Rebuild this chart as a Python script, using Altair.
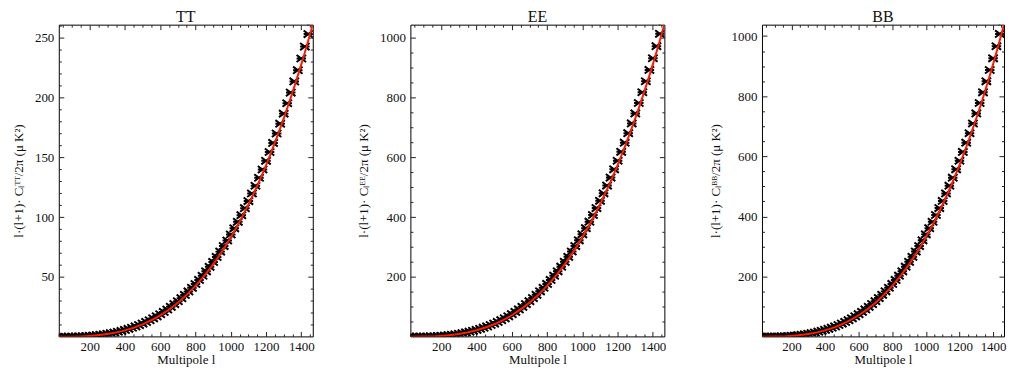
import altair as alt
import pandas as pd

# ---- data ----
ell_pts = [20, 40, 60, 80, 100, 120, 140, 160, 180, 200,
           220, 240, 260, 280, 300, 320, 340, 360, 380, 400,
           420, 440, 460, 480, 500, 520, 540, 560, 580, 600,
           620, 640, 660, 680, 700, 720, 740, 760, 780, 800,
           820, 840, 860, 880, 900, 920, 940, 960, 980, 1000,
           1020, 1040, 1060, 1080, 1100, 1120, 1140, 1160, 1180, 1200,
           1220, 1240, 1260, 1280, 1300, 1320, 1340, 1360, 1380, 1400,
           1420, 1440, 1460]

tt_pts = [0.00, 0.01, 0.03, 0.06, 0.11, 0.18, 0.28, 0.41, 0.57, 0.77,
          1.01, 1.30, 1.63, 2.03, 2.47, 2.98, 3.56, 4.21, 4.92, 5.72,
          6.60, 7.56, 8.62, 9.77, 11.0, 12.4, 13.8, 15.4, 17.1, 18.8,
          20.8, 22.8, 25.0, 27.3, 29.7, 32.3, 35.0, 37.9, 40.9, 44.1,
          47.5, 51.0, 54.7, 58.5, 62.6, 66.8, 71.2, 75.8, 80.5, 85.5,
          90.7, 96.1, 101.7, 107.5, 113.5, 119.8, 126.3, 133.0, 139.9, 147.1,
          154.5, 162.1, 170.0, 178.2, 186.6, 195.3, 204.2, 213.5, 222.9, 232.7,
          242.7, 253.1, 263.7]

ee_pts = [0.01, 0.04, 0.11, 0.24, 0.44, 0.73, 1.12, 1.63, 2.28, 3.08,
          4.04, 5.19, 6.54, 8.10, 9.89, 11.9, 14.2, 16.8, 19.7, 22.9,
          26.4, 30.3, 34.5, 39.1, 44.0, 49.4, 55.2, 61.5, 68.2, 75.4,
          83.0, 91.2, 99.9, 109.1, 118.8, 129.2, 140.1, 151.6, 163.7, 176.5,
          189.8, 203.9, 218.6, 234.1, 250.2, 267.1, 284.7, 303.0, 322.2, 342.1,
          362.8, 384.4, 406.8, 430.0, 454.1, 479.1, 505.0, 531.8, 559.5, 588.2,
          617.9, 648.5, 680.2, 712.8, 746.4, 781.2, 817.0, 853.8, 891.7, 930.8,
          971.0, 1012.3, 1054.7]

bb_pts = [0.01, 0.04, 0.11, 0.24, 0.44, 0.72, 1.11, 1.62, 2.27, 3.06,
          4.02, 5.16, 6.51, 8.06, 9.84, 11.8, 14.1, 16.7, 19.6, 22.8,
          26.3, 30.1, 34.3, 38.9, 43.8, 49.2, 54.9, 61.2, 67.9, 75.0,
          82.6, 90.7, 99.4, 108.6, 118.2, 128.6, 139.4, 150.8, 162.9, 175.6,
          188.9, 202.9, 217.5, 232.9, 249.0, 265.8, 283.3, 301.5, 320.6, 340.4,
          361.0, 382.5, 404.8, 427.9, 451.8, 476.7, 502.5, 529.1, 556.7, 585.3,
          614.8, 645.3, 676.8, 709.2, 742.7, 777.3, 812.9, 849.5, 887.2, 926.1,
          966.1, 1007.2, 1049.4]

ell_line = [20, 100, 200, 300, 400, 500, 600, 700, 800, 900, 1000,
            1100, 1200, 1300, 1400, 1465]
tt_line = [0.0, 0.08, 0.66, 2.24, 5.31, 10.4, 17.9, 28.5, 42.5, 60.5, 83.0,
           110.5, 143.4, 182.4, 227.8, 261.0]
ee_line = [0.0, 0.33, 2.66, 8.96, 21.3, 41.5, 71.7, 113.9, 170.0, 242.0, 332.0,
           442.0, 573.8, 729.5, 911.1, 1043.0]
bb_line = [0.0, 0.33, 2.64, 8.92, 21.1, 41.3, 71.4, 113.3, 169.2, 240.8, 330.4,
           439.8, 570.9, 725.8, 906.6, 1038.0]

x_major = [200, 400, 600, 800, 1000, 1200, 1400]
x_all = [50, 100, 150, 200, 250, 300, 350, 400, 450, 500, 550, 600, 650, 700,
         750, 800, 850, 900, 950, 1000, 1050, 1100, 1150, 1200, 1250, 1300,
         1350, 1400, 1450]
tt_major = [50, 100, 150, 200, 250]
tt_all = [10, 20, 30, 40, 50, 60, 70, 80, 90, 100, 110, 120, 130, 140, 150,
          160, 170, 180, 190, 200, 210, 220, 230, 240, 250, 260]
pol_major = [200, 400, 600, 800, 1000]
pol_all = [50, 100, 150, 200, 250, 300, 350, 400, 450, 500, 550, 600, 650,
           700, 750, 800, 850, 900, 950, 1000]

X_DOMAIN = [25, 1465]
H = 313
FONT = "Liberation Serif"
TXT = "#111111"
MARK_PATH = "M-1,-0.75L1,0.75M-1,0.75L1,-0.75M-1,0L1,0"


def tick_axis(values, orient, offset, major_mod):
    return alt.Axis(
        values=values, orient=orient, offset=offset, labels=False, title=None,
        domain=False, grid=False, ticks=True, tickColor="#222222", tickWidth=1,
        tickSize={"condition": {"test": f"datum.value % {major_mod} === 0", "value": 5},
                  "value": 2.5},
    )


def label_axis(values, title, lpad, tpad):
    return alt.Axis(
        values=values, title=title, ticks=False, domain=False, grid=False,
        format="d", labelPadding=lpad, titlePadding=tpad, labelFlush=False,
        labelFont=FONT, labelFontSize=13, labelColor=TXT,
        titleFont=FONT, titleFontSize=13, titleFontWeight="normal", titleColor=TXT,
    )


def panel(name, W, pts, line, ydom, ymajor, yall, ymod, ytitle):
    dfp = pd.DataFrame({"l": ell_pts, "v": pts})
    dfl = pd.DataFrame({"l": ell_line, "v": line})
    xs = alt.Scale(domain=X_DOMAIN, nice=False, zero=False)
    ys = alt.Scale(domain=ydom, nice=False, zero=False)

    pts_layer = alt.Chart(dfp).mark_point(
        shape=MARK_PATH, size=90, strokeWidth=2, color="black",
        filled=False, opacity=1, clip=True
    ).encode(
        x=alt.X("l:Q", scale=xs, axis=label_axis(x_major, "Multipole l", 4, 0)),
        y=alt.Y("v:Q", scale=ys, axis=label_axis(ymajor, ytitle, 5, 9)),
    )
    line_layer = alt.Chart(dfl).mark_line(
        color="#ff1a00", strokeWidth=2, interpolate="monotone", clip=True
    ).encode(
        x=alt.X("l:Q", scale=xs, axis=None),
        y=alt.Y("v:Q", scale=ys, axis=None),
    )
    # inward ticks on bottom + left
    ticks_a = alt.Chart(dfl).mark_point(opacity=0, clip=True).encode(
        x=alt.X("l:Q", scale=xs, axis=tick_axis(x_all, "top", -H, 200)),
        y=alt.Y("v:Q", scale=ys, axis=tick_axis(yall, "right", -W, ymod)),
    )
    # inward ticks on top + right
    ticks_b = alt.Chart(dfl).mark_point(opacity=0, clip=True).encode(
        x=alt.X("l:Q", scale=xs, axis=tick_axis(x_all, "bottom", -H, 200)),
        y=alt.Y("v:Q", scale=ys, axis=tick_axis(yall, "left", -W, ymod)),
    )
    return alt.layer(ticks_a, ticks_b, pts_layer, line_layer).resolve_axis(
        x="independent", y="independent"
    ).properties(
        width=W, height=H,
        title=alt.TitleParams(name, font=FONT, fontSize=16, fontWeight="normal",
                              color=TXT, offset=-1.3),
    )


p_tt = panel("TT", 255, tt_pts, tt_line, [0.3, 261], tt_major, tt_all, 50,
             "l·(l+1)· Cₗᵀᵀ/2π (μ K²)")
p_ee = panel("EE", 255, ee_pts, ee_line, [1, 1043], pol_major, pol_all, 200,
             "l·(l+1)· Cₗᴱᴱ/2π (μ K²)")
p_bb = panel("BB", 243, bb_pts, bb_line, [1, 1038], pol_major, pol_all, 200,
             "l·(l+1)· Cₗᴮᴮ/2π (μ K²)")

chart = alt.hconcat(p_tt, p_ee, p_bb, spacing=98, bounds="flush").properties(
    padding={"left": 4, "top": 0, "right": 0, "bottom": 0}
).configure_view(
    stroke="black", strokeWidth=1
)

chart.save("out.html", embed_options={"renderer": "svg", "actions": False})
